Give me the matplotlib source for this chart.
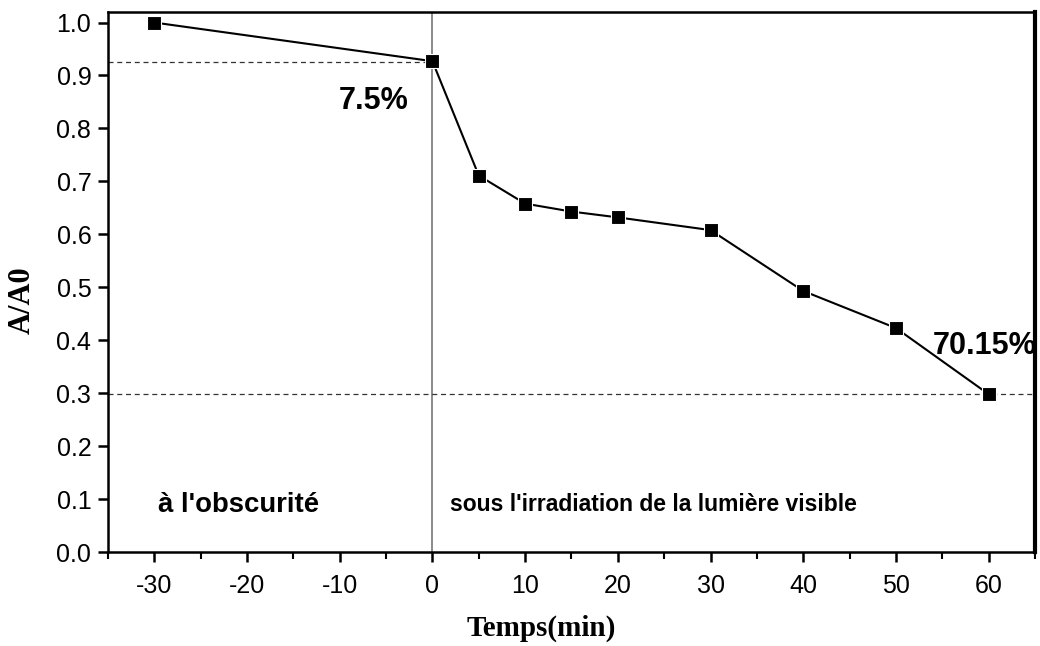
import matplotlib
matplotlib.use("Agg")
import matplotlib.pyplot as plt
from matplotlib.ticker import MultipleLocator

# data
temps = [-30, 0, 5, 10, 15, 20, 30, 40, 50, 60]
ratio = [1.0, 0.927, 0.711, 0.658, 0.643, 0.632, 0.608, 0.493, 0.423, 0.298]

niveau_obscurite = 0.925
niveau_final = 0.298

plt.rcParams["axes.unicode_minus"] = False

fig = plt.figure(figsize=(10.4, 6.46), dpi=100)
ax = fig.add_axes([0.1038, 0.1455, 0.8914, 0.836])

ax.axvline(0, color="#777777", lw=1.2, zorder=1)
ax.plot([-35, 0], [niveau_obscurite, niveau_obscurite], color="#333333",
        lw=0.9, ls=(0, (4, 3)), zorder=1)
ax.axhline(niveau_final, color="#333333", lw=0.9, ls=(0, (4, 3)), zorder=1)

ax.plot(temps, ratio, color="black", lw=1.5, marker="s", markersize=9.5,
        markeredgecolor="white", markeredgewidth=0.8, zorder=3)

ax.set_xlim(-35, 65)
ax.set_ylim(0, 1.02)
ax.xaxis.set_major_locator(MultipleLocator(10))
ax.xaxis.set_minor_locator(MultipleLocator(5))
ax.yaxis.set_major_locator(MultipleLocator(0.1))
ax.yaxis.set_major_formatter(plt.FuncFormatter(lambda v, p: f"{v:.1f}"))

sans = "Liberation Sans"
serif = "Liberation Serif"
ax.tick_params(which="major", direction="out", length=7, width=1.8,
               labelsize=18, pad=5)
ax.tick_params(axis="x", which="major", pad=9)
ax.tick_params(which="minor", direction="out", length=5, width=1.5)
for lab in ax.get_xticklabels() + ax.get_yticklabels():
    lab.set_fontfamily(sans)

for side in ["left", "bottom", "top"]:
    ax.spines[side].set_linewidth(1.8)
ax.spines["right"].set_linewidth(3)

ax.set_xlabel("Temps(min)", fontfamily=serif, fontweight="bold",
              fontsize=21, va="center", ha="center")
ax.xaxis.set_label_coords(0.467, -0.141)
ax.set_ylabel("A/A0", fontfamily=serif, fontweight="bold",
              fontsize=22, va="center", ha="center")
ax.yaxis.set_label_coords(-0.0928, 0.467)

ax.text(-2.6, 0.851, "7.5%", fontfamily=sans, fontweight="bold",
        fontsize=22, ha="right", va="center")
ax.text(54.0, 0.39, "70.15%", fontfamily=sans, fontweight="bold",
        fontsize=22, ha="left", va="center")
ax.text(-29.6, 0.089, "à l'obscurité", fontfamily=sans, fontweight="bold",
        fontsize=19.8, ha="left", va="center")
ax.text(1.9, 0.089, "sous l'irradiation de la lumière visible", fontfamily=sans,
        fontweight="bold", fontsize=16.5, ha="left", va="center")

fig.savefig("out.png", dpi=100)
